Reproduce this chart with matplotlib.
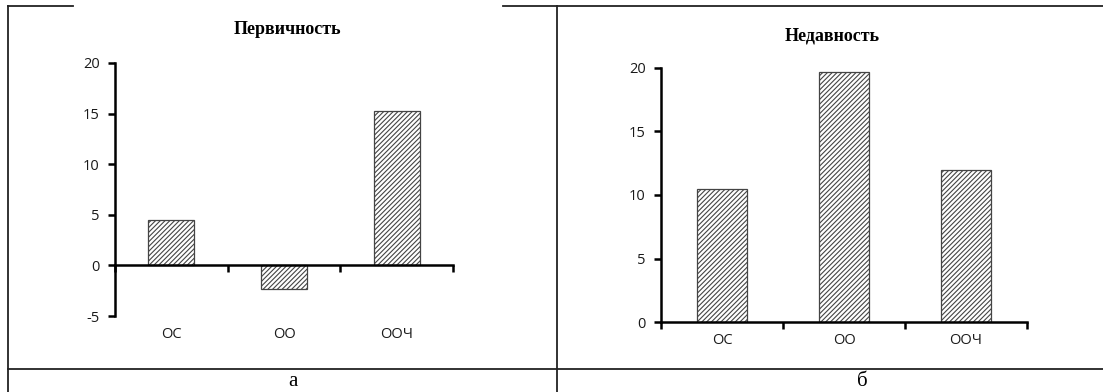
import numpy as np
import matplotlib.pyplot as plt
from matplotlib.lines import Line2D

# Данные
categories = ['ОС', 'ОО', 'ООЧ']
primacy = [4.5, -2.3, 15.3]      # Первичность
recency = [10.5, 19.7, 12.0]     # Недавность
panel_titles = ['Первичность', 'Недавность']
panel_labels = ['а', 'б']

W, H = 1103, 392
plt.rcParams['hatch.linewidth'] = 0.8
plt.rcParams['hatch.color'] = '#5a5a5a'
plt.rcParams['axes.unicode_minus'] = False

fig = plt.figure(figsize=(W / 100, H / 100), dpi=100)
fig.patch.set_facecolor('white')

tick_font = dict(family=['Open Sans', 'DejaVu Sans'], size=10.5)
title_font = dict(family=['Liberation Serif'], size=13, weight='bold')


def px_axes(x0, x1, y_top, y_bot):
    return fig.add_axes([x0 / W, 1 - y_bot / H, (x1 - x0) / W, (y_bot - y_top) / H])


def style_axes(ax, values, ymin, ymax):
    x = np.arange(len(values))
    ax.bar(x, values, width=0.41, color='white', edgecolor='#444444',
           linewidth=0.9, hatch='///////', zorder=2)
    ax.set_xlim(-0.5, len(values) - 0.5)
    ax.set_ylim(ymin, ymax)
    ax.set_yticks(np.arange(ymin, ymax + 1, 5))
    for s in ['top', 'right']:
        ax.spines[s].set_visible(False)
    ax.spines['left'].set_linewidth(1.8)
    ax.spines['bottom'].set_linewidth(1.8)
    ax.spines['bottom'].set_position(('data', 0))
    ax.spines['bottom'].set_zorder(3)
    ax.tick_params(axis='y', length=5, width=1.8, pad=6)
    ax.set_xticks(np.arange(-0.5, len(values)), minor=True)
    ax.set_xticks([])
    ax.tick_params(axis='x', which='minor', length=5, width=1.8, direction='out')
    for lab in ax.get_yticklabels():
        lab.set_fontfamily(tick_font['family'])
        lab.set_fontsize(tick_font['size'])
        lab.set_color('#1a1a1a')
    for i, c in enumerate(categories):
        ax.annotate(c, (i, ymin), xytext=(0, -8), textcoords='offset points',
                    ha='center', va='top', color='#1a1a1a', **tick_font)


ax1 = px_axes(115, 453, 63, 316)
style_axes(ax1, primacy, -5, 20)
ax2 = px_axes(661, 1027, 68, 322)
style_axes(ax2, recency, 0, 20)

fig.text(287 / W, 1 - 30 / H, panel_titles[0], ha='center', va='center', **title_font)
fig.text(832 / W, 1 - 36 / H, panel_titles[1], ha='center', va='center', **title_font)

# рамка таблицы
lc = '#222222'
def hline(x0, x1, y):
    fig.add_artist(Line2D([x0 / W, x1 / W], [1 - y / H, 1 - y / H], color=lc, lw=1.3))
def vline(x, y0, y1):
    fig.add_artist(Line2D([x / W, x / W], [1 - y0 / H, 1 - y1 / H], color=lc, lw=1.3))

hline(8, 73, 6)
hline(503, W, 6)
hline(8, W, 369)
vline(8, 6, H)
vline(557, 6, H)

fig.text(293 / W, 1 - 382 / H, panel_labels[0], ha='center', va='center',
         family='Liberation Serif', size=15)
fig.text(862 / W, 1 - 382 / H, panel_labels[1], ha='center', va='center',
         family='Liberation Serif', size=15)

fig.savefig('out.png', dpi=100)
